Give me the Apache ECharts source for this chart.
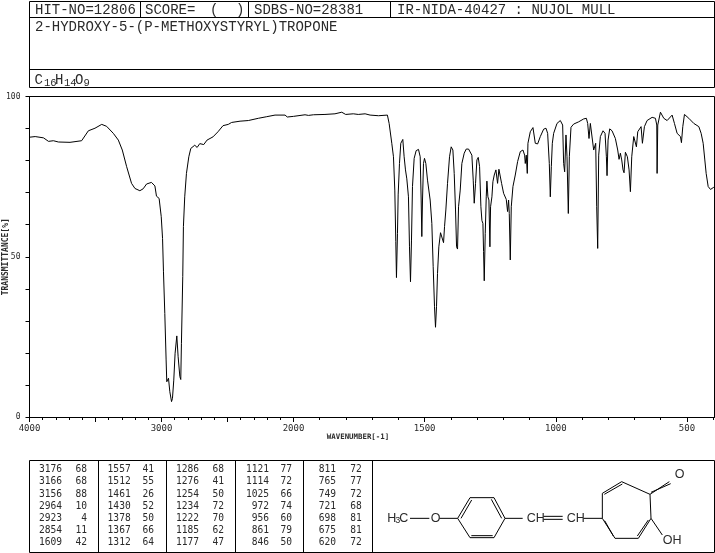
<!DOCTYPE html>
<html>
<head>
<meta charset="utf-8">
<style>html,body{margin:0;padding:0;background:#fff}#c{width:715px;height:553px}</style>
<script src="https://cdn.jsdelivr.net/npm/echarts@6/dist/echarts.min.js"></script>
</head>
<body>
<div id="c"></div>
<script>
// ---- spectrum, high-wavenumber segment (4000-2000 cm-1)
const wavenumberHigh = [4000,3957,3894,3856,3819,3781,3693,3605,3554,3504,3453,3416,3365,3327,3297,3264,3227,3201,3164,3139,3113,3076,3050,3038,3018,3002,2992,2985,2975,2965,2960,2947,2937,2924,2917,2907,2897,2884,2874,2861,2854,2849,2839,2834,2824,2811,2793,2778,2748,2730,2710,2680,2655,2610,2572,2534,2519,2494,2469,2405,2342,2266,2203,2140,2064,2047,2000];
const transmittanceHigh = [87.3,87.5,87.1,86,86.2,85.8,85.7,86.2,89.3,90.1,91.3,90.7,88.5,86.4,83.3,78.1,72.9,71.3,70.6,71.2,72.7,73.2,72.1,68.9,68.2,62.5,55.7,45.3,32.3,17.8,11,12.1,7.9,4.8,5.8,11.5,19.9,25.3,18.8,12.6,11.7,23,43.8,59.4,68.7,76,81.2,83.8,84.8,84.1,85.3,85,86.4,87.4,89,90.9,91,91.3,91.9,92.3,92.5,93.2,93.7,94.2,94.2,93.6,93.8];
// ---- spectrum, low-wavenumber segment (2000-400 cm-1)
const wavenumberLow = [2000,1956,1943,1924,1880,1842,1816,1801,1772,1753,1727,1708,1676,1642,1635.4,1625.3,1618.9,1613.8,1610,1607.5,1603.6,1601,1596,1591,1583.3,1578.2,1573.1,1568,1561.7,1557.8,1554,1550.2,1546.4,1540,1532.4,1523.5,1517,1513.3,1510.8,1508.2,1504.4,1500.6,1495.5,1489.1,1479,1472.6,1467.5,1462.4,1458.6,1454.8,1451,1445.9,1439.5,1431.9,1428,1424.2,1419.2,1412.8,1405.2,1398.8,1392.4,1387.3,1382.3,1378.4,1374.6,1370.8,1364.4,1358.1,1349.2,1341.5,1332.6,1326.3,1320,1314.8,1311,1306,1300.8,1295.7,1290.6,1285.6,1281.7,1277.9,1275.4,1272.8,1269,1265.2,1262.7,1258.8,1255,1251.2,1248.7,1243.6,1239.8,1234.7,1228.3,1222,1216.9,1211.8,1206.7,1199,1188.9,1183.8,1180,1177.4,1173.6,1169.8,1163.4,1154.5,1145.6,1135.4,1125.3,1118.9,1116.4,1112.5,1108.7,1106.2,1097.3,1087.1,1078.2,1069.3,1059.1,1046.4,1037.5,1031.1,1024.8,1021,1017.1,1013.3,1008.2,995.5,982.8,973.9,970.1,966.3,961.2,957.3,952.3,948.4,942.1,931.9,912.8,893.7,883.5,878.5,873.4,868.3,861.9,855.6,851.7,847.9,844.1,840.3,836.5,830.1,819.9,812.3,807.2,804.7,800.8,794.5,785.6,772.9,764,758.9,753.8,748.7,743.6,739.8,734.7,727.1,720.7,715.6,710.5,702.9,697.8,692.7,687.6,674.9,669.8,662.2,652,632.9,620.2,615.1,613.8,611.3,601.1,588.4,575.6,556.6,547.7,537.5,524.8,521,515.9,509.5,492.9,473.9,454.8,445.9,438.2,431.9,426.8,419.1,410.2,397.5];
const transmittanceLow = [93.8,94.3,94.1,94.3,94.4,94.6,95.1,94.4,94.6,94.4,94.6,94.2,94,94.2,91.6,85.4,81.2,70.8,54.7,43.5,57.3,69.3,79.1,85.4,86.6,81.2,77.1,74.3,68.7,53.1,42.2,55.2,71.9,80.7,83.1,83.5,81.2,67.7,56.3,67.7,79.1,80.7,79.1,73.9,67.7,60.4,46.9,34.4,28,34.4,44.8,53.1,57.5,57.5,54.4,59.4,64.6,72.9,81.2,84.3,83.3,76,64.6,53.1,52.4,65.6,70.8,79.1,82.3,83.6,83.6,84.1,81.7,73.9,66.7,72.9,80.2,81,78.1,65.6,61.3,60.4,51.6,42.5,57.3,68.7,73.6,68.7,67.7,53.1,65.6,68.7,73.4,75.5,77.1,72.9,77.3,77.3,72.9,69.8,67.9,64.1,67.7,63.5,49,65.6,71.9,75.5,79.7,82.8,83.3,81.7,79.1,81.7,76,85.4,89,90.3,85.4,85.2,87.5,89.8,90.1,88.5,79.1,68.7,78.1,85.4,88.5,91.6,92.5,91.1,79.1,76.5,88,81.2,63.5,81.2,90.4,91.4,92.1,93,93.2,91.6,86.9,91.6,91.8,83.3,82.8,85.4,65.6,52.6,81.7,87.5,89.3,88.5,81.2,75.3,86.4,89.9,89.3,86.9,83.3,80.4,82.3,80.2,77.1,76.2,82.6,81.2,77.1,70.3,81.2,87.5,87.7,84.3,89,90.6,85.4,90.6,92.5,93.5,93.2,91.1,76,91.1,95.1,93.2,92.5,94.2,91.6,88.5,87.5,85.6,90.6,94.4,93.2,91.6,90.6,88.5,85.4,80.2,76,71.9,71,71.7];
// ---- peak table columns
const peakWavenumbers = [
  [3176,3166,3156,2964,2923,2854,1609],
  [1557,1512,1461,1430,1378,1367,1312],
  [1286,1276,1254,1234,1222,1185,1177],
  [1121,1114,1025,972,956,861,846],
  [811,765,749,721,698,675,620]
];
const peakTransmittances = [
  [68,68,88,10,4,11,42],
  [41,55,26,52,50,66,64],
  [68,41,50,72,70,62,47],
  [77,72,66,74,60,79,50],
  [72,77,72,68,81,81,72]
];
// ---- labels
const headerCells = ['HIT-NO=12806','SCORE=','SDBS-NO=28381','IR-NIDA-40427 : NUJOL MULL'];
const compoundName = '2-HYDROXY-5-(P-METHOXYSTYRYL)TROPONE';
const xLabelsHigh = [4000,3000,2000];
const xLabelsLow = [1500,1000,500];
const xMajorHigh = [4000,3500,3000,2500,2000];
const xMajorLow = [2000,1500,1000,500];
const xMinorLow = [1900,1800,1700,1600,1500,1400,1300,1200,1100,1000,900,800,700,600,500,400];
const yLabels = [0,50,100];

const HFONT = '14px "Liberation Mono", monospace';
const TFONT = '9.6px "DejaVu Sans Mono", monospace';
const INK = '#2a2a2a';
const g = [];
const line = (x1,y1,x2,y2,w) => g.push({type:'line',silent:true,shape:{x1,y1,x2,y2},style:{stroke:'#000',lineWidth:w||1}});
const text = (t,x,y,font,align) => g.push({type:'text',silent:true,style:{text:String(t),x,y,font,fill:INK,textAlign:align||'left',textVerticalAlign:'middle'}});

// header box
line(29.5,1.5,714.5,1.5); line(29.5,17.5,714.5,17.5); line(29.5,69.5,714.5,69.5); line(29.5,87.5,714.5,87.5);
line(29.5,1.5,29.5,87.5); line(714.5,1.5,714.5,87.5);
line(140.5,1.5,140.5,17.5); line(248.5,1.5,248.5,17.5); line(390.5,1.5,390.5,17.5);
text(headerCells[0],35,10,HFONT); text(headerCells[1],145,10,HFONT); text('(',210,10,HFONT); text(')',236,10,HFONT);
text(headerCells[2],254,10,HFONT); text(headerCells[3],397,10,HFONT);
text(compoundName,35,27,HFONT);
// formula
const SUB = '10.5px "Liberation Mono", monospace';
text('C',34.5,80,HFONT); text('16',44,83,SUB); text('H',55,80,HFONT); text('14',64,83,SUB); text('O',75,80,HFONT); text('9',83.5,83,SUB);
// plot frame top and right
line(29.5,96.5,714.5,96.5); line(714.5,96.5,714.5,417.5);
text('WAVENUMBER[-1]',358,437,'bold 7.4px "DejaVu Sans Mono", monospace','center');
// peak table
line(29.5,460.5,714.5,460.5); line(29.5,552.5,714.5,552.5);
[29.5,98.5,166.5,235.5,303.5,372.5,714.5].forEach(x=>line(x,460.5,x,552.5));
const colW = [62,130.7,199,269,336], colT = [87,154,224,292,361.7];
peakWavenumbers.forEach((col,c)=>col.forEach((v,r)=>{
  const y = 469.7 + r*12.2;
  text(v,colW[c],y,TFONT,'right');
  text(peakTransmittances[c][r],colT[c],y,TFONT,'right');
}));
// structure (drawing coordinates are 3x offsets from the box corner)
const mx = v => 370 + v/3, my = v => 450 + v/3;
const bond = (a,b,c,d) => line(mx(a),my(b),mx(c),my(d));
[[120,205,178,205],[208,205,263,205],[263,205,300,143],[273,205,305,150],[300,143,372,143],[372,143,405,205],[364,148,395,205],
 [405,205,372,263],[372,263,300,263],[368,257,304,257],[300,263,263,205],[405,205,458,205],[520,199,578,199],[520,208,578,208],[640,205,697,205],
 [697,205,697,130],[697,130,755,95],[703,133,757,102],[755,95,840,133],[840,133,843,205],[843,205,805,265],[835,210,802,258],
 [805,265,735,265],[735,265,697,205],[730,258,704,212],[840,133,898,95],[843,127,902,101],[843,205,877,255]].forEach(b=>bond(...b));
const MF = '12.5px "Liberation Sans", sans-serif';
text('H',mx(52),my(205),MF); text('3',mx(76),my(211),'9px "Liberation Sans", sans-serif'); text('C',mx(88),my(205),MF);
text('O',mx(182),my(205),MF); text('CH',mx(470),my(205),MF); text('CH',mx(590),my(205),MF);
text('O',mx(914),my(73),MF); text('OH',mx(878),my(272),MF);

const yTickLabel = v => yLabels.includes(v) ? String(v) : '';
const xTickLabel = v => String(v);
const tickFont = {fontFamily:'"DejaVu Sans Mono", monospace',fontSize:9,color:INK,formatter:xTickLabel};
const axisBase = {type:'value',gridIndex:0,position:'bottom',inverse:true,min:2000,max:4000,splitLine:{show:false},
  axisLine:{show:false,onZero:false}};
const chart = echarts.init(document.getElementById('c'),null,{renderer:'canvas'});
chart.setOption({
  animation:false,backgroundColor:'#fff',
  grid:[{left:29.5,top:96.5,width:264,height:320.5,outerBoundsMode:'none'},{left:293.5,top:96.5,width:421,height:320.5,outerBoundsMode:'none'}],
  xAxis:[
    {...axisBase,interval:100,axisTick:{length:3,lineStyle:{color:'#000'}},axisLabel:{show:false},
     axisLine:{show:true,onZero:false,lineStyle:{color:'#000',width:1}}},
    {...axisBase,axisTick:{length:5,lineStyle:{color:'#000'},customValues:xMajorHigh},
     axisLabel:{...tickFont,margin:7,customValues:xLabelsHigh,showMinLabel:true,showMaxLabel:true,hideOverlap:false}},
    {...axisBase,gridIndex:1,min:395,max:2000,axisTick:{length:3,lineStyle:{color:'#000'},customValues:xMinorLow},axisLabel:{show:false},
     axisLine:{show:true,onZero:false,lineStyle:{color:'#000',width:1}}},
    {...axisBase,gridIndex:1,min:395,max:2000,axisTick:{length:5,lineStyle:{color:'#000'},customValues:xMajorLow},
     axisLabel:{...tickFont,margin:7,customValues:xLabelsLow,hideOverlap:false}}
  ],
  yAxis:[
    {type:'value',gridIndex:0,min:0,max:100,interval:10,splitLine:{show:false},
     name:'TRANSMITTANCE[%]',nameLocation:'middle',nameGap:20,nameMoveOverlap:false,
     nameTextStyle:{fontFamily:'"DejaVu Sans Mono", monospace',fontSize:8,fontWeight:'bold',color:INK},
     axisLine:{show:true,onZero:false,lineStyle:{color:'#000',width:1}},
     axisTick:{length:4,lineStyle:{color:'#000'}},
     axisLabel:{fontFamily:'"DejaVu Sans Mono", monospace',fontSize:8,color:INK,margin:9,formatter:yTickLabel}},
    {type:'value',gridIndex:1,min:0,max:100,show:false}
  ],
  series:[
    {type:'line',xAxisIndex:0,yAxisIndex:0,showSymbol:false,silent:true,lineStyle:{color:'#000',width:1},
     data:wavenumberHigh.map((w,i)=>[w,transmittanceHigh[i]])},
    {type:'line',xAxisIndex:2,yAxisIndex:1,showSymbol:false,silent:true,lineStyle:{color:'#000',width:1},
     data:wavenumberLow.map((w,i)=>[w,transmittanceLow[i]])}
  ],
  graphic:{elements:g}
});
</script>
</body>
</html>
